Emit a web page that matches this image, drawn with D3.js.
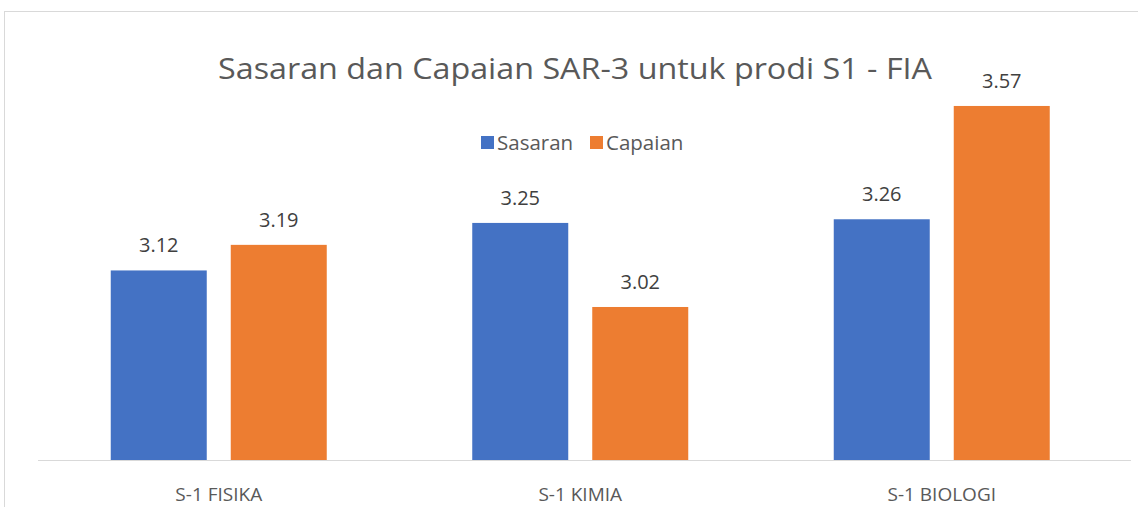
<!DOCTYPE html>
<html><head><meta charset="utf-8">
<script src="https://cdn.jsdelivr.net/npm/d3@7"></script>
<style>html,body{margin:0;padding:0;background:#fff;}svg{display:block;}</style>
</head><body>
<svg id="c" width="1138" height="507"></svg>
<script>
const categories = ["S-1 FISIKA", "S-1 KIMIA", "S-1 BIOLOGI"];
const seriesNames = ["Sasaran", "Capaian"];
const sasaran = [3.12, 3.25, 3.26];
const capaian = [3.19, 3.02, 3.57];
const colors = ["#4472C4", "#ED7D31"];
const titleText = "Sasaran dan Capaian SAR-3 untuk prodi S1 - FIA";

const svg = d3.select("#c");
const font = "'Open Sans', sans-serif";

// chart frame
svg.append("rect").attr("x", 4.5).attr("y", 11.5).attr("width", 1140).attr("height", 510)
  .attr("fill", "#fff").attr("stroke", "#d9d9d9").attr("stroke-width", 1);

const left = 38, right = 1122.5, baseY = 460.5;
const x0 = d3.scaleBand().domain(categories).range([left, right]).padding(0);
const groupW = 216;
const x1 = d3.scaleBand().domain(seriesNames).range([0, groupW]).paddingInner(0.2);
const y = d3.scaleLinear().domain([2.6, 3.8]).range([baseY, baseY - 1.2 * 365.5]);

const data = categories.map((c, i) => ({cat: c, vals: [sasaran[i], capaian[i]]}));

const g = svg.append("g");
const groups = g.selectAll("g.grp").data(data).join("g")
  .attr("transform", d => `translate(${x0(d.cat) + (x0.bandwidth() - groupW) / 2},0)`);

groups.selectAll("rect").data(d => d.vals.map((v, j) => ({s: seriesNames[j], v, j})))
  .join("rect")
  .attr("x", d => x1(d.s)).attr("width", x1.bandwidth())
  .attr("y", d => y(d.v)).attr("height", d => y(2.6) - y(d.v))
  .attr("fill", d => colors[d.j]);

groups.selectAll("text").data(d => d.vals.map((v, j) => ({s: seriesNames[j], v, j})))
  .join("text")
  .attr("x", d => x1(d.s) + x1.bandwidth() / 2)
  .attr("y", d => y(d.v) - 18)
  .attr("text-anchor", "middle")
  .attr("font-family", font).attr("font-size", 20).attr("fill", "#404040")
  .text(d => d3.format(".2f")(d.v));

// x axis
const xAxis = svg.append("g").attr("transform", `translate(0,${baseY})`)
  .call(d3.axisBottom(x0).tickSize(0).tickPadding(0));
xAxis.select(".domain").attr("d", `M${left},0H1131`).attr("stroke", "#d9d9d9").attr("stroke-width", 1.2);
xAxis.selectAll(".tick text").attr("dy", 0).attr("y", 40)
  .attr("font-family", font).attr("font-size", 19).attr("fill", "#595959");

// title
svg.append("text").attr("x", 575).attr("y", 79).attr("text-anchor", "middle")
  .attr("font-family", font).attr("font-size", 30).attr("fill", "#595959")
  .attr("textLength", 714).attr("lengthAdjust", "spacingAndGlyphs")
  .text(titleText);

// legend
const legX = [481, 590];
const leg = svg.append("g");
seriesNames.forEach((s, i) => {
  leg.append("rect").attr("x", legX[i]).attr("y", 136).attr("width", 13).attr("height", 13).attr("fill", colors[i]);
  leg.append("text").attr("x", legX[i] + 16).attr("y", 150)
    .attr("font-family", font).attr("font-size", 20.5).attr("fill", "#595959").text(s);
});
</script>
</body></html>
